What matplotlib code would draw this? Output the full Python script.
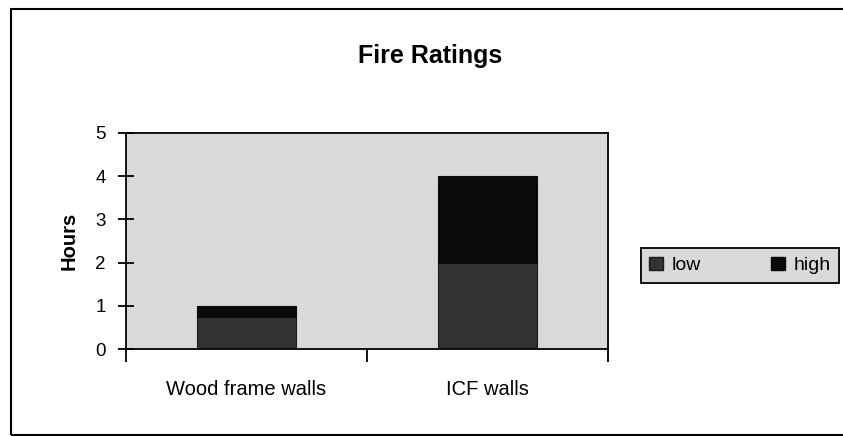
import matplotlib
matplotlib.use("Agg")
import matplotlib.pyplot as plt
from matplotlib.patches import Rectangle, Patch
import numpy as np

plt.rcParams['font.family'] = ['Liberation Sans', 'DejaVu Sans']

# datos
categories = ['Wood frame walls', 'ICF walls']
low = [0.75, 2.0]
high_extra = [0.25, 2.0]   # parte "high" apilada sobre "low"
yticks = [0, 1, 2, 3, 4, 5]

fig = plt.figure(figsize=(8.43, 4.36), dpi=100)
ax = fig.add_axes([126/843, 1 - 349/436, (608 - 126)/843, (349 - 133)/436])

x = np.arange(len(categories))
w = 0.41
ax.bar(x, low, w, color='#333333', edgecolor='#1a1a1a', linewidth=0.8, label='low', zorder=2)
ax.bar(x, high_extra, w, bottom=low, color='#0a0a0a', edgecolor='#0a0a0a', linewidth=0.8,
       label='high', zorder=2)

ax.set_facecolor('#d9d9d9')
ax.set_xlim(-0.5, 1.5)
ax.set_ylim(0, 5)
ax.set_yticks(yticks)
ax.tick_params(axis='y', direction='inout', length=11, width=1.3, labelsize=13.5, pad=9)
ax.set_xticks([-0.5, 0.5, 1.5])
ax.set_xticklabels([])
ax.tick_params(axis='x', which='major', direction='out', length=9, width=1.3)
ax.set_xticks(x, minor=True)
ax.set_xticklabels(categories, minor=True, fontsize=14.5)
ax.tick_params(axis='x', which='minor', length=0, pad=22)
for s in ax.spines.values():
    s.set_linewidth(1.3)
    s.set_zorder(3)

ax.set_ylabel('Hours', fontsize=14.5, fontweight='bold', labelpad=12)
fig.text(430/843, 1 - 56/436, 'Fire Ratings', ha='center', va='center',
         fontsize=18, fontweight='bold')

# marco exterior
fig.patches.append(Rectangle((11/843, 1/436), 1.0, 426/436, transform=fig.transFigure,
                             fill=False, edgecolor='black', linewidth=1.5))

handles = [Patch(facecolor='#333333', edgecolor='#1a1a1a'),
           Patch(facecolor='#0a0a0a', edgecolor='#0a0a0a')]
leg = fig.legend(handles, ['low', 'high'], loc='center', ncol=2,
                 bbox_to_anchor=(740/843, 1 - 265.5/436), fontsize=14,
                 frameon=True, fancybox=False, handlelength=0.7, handleheight=0.7,
                 handletextpad=0.45, columnspacing=3.6, borderpad=0.45, borderaxespad=0)
leg.get_frame().set_facecolor('#d9d9d9')
leg.get_frame().set_edgecolor('black')
leg.get_frame().set_linewidth(1.3)
leg.get_frame().set_alpha(1)

fig.savefig('out.png', dpi=100)
